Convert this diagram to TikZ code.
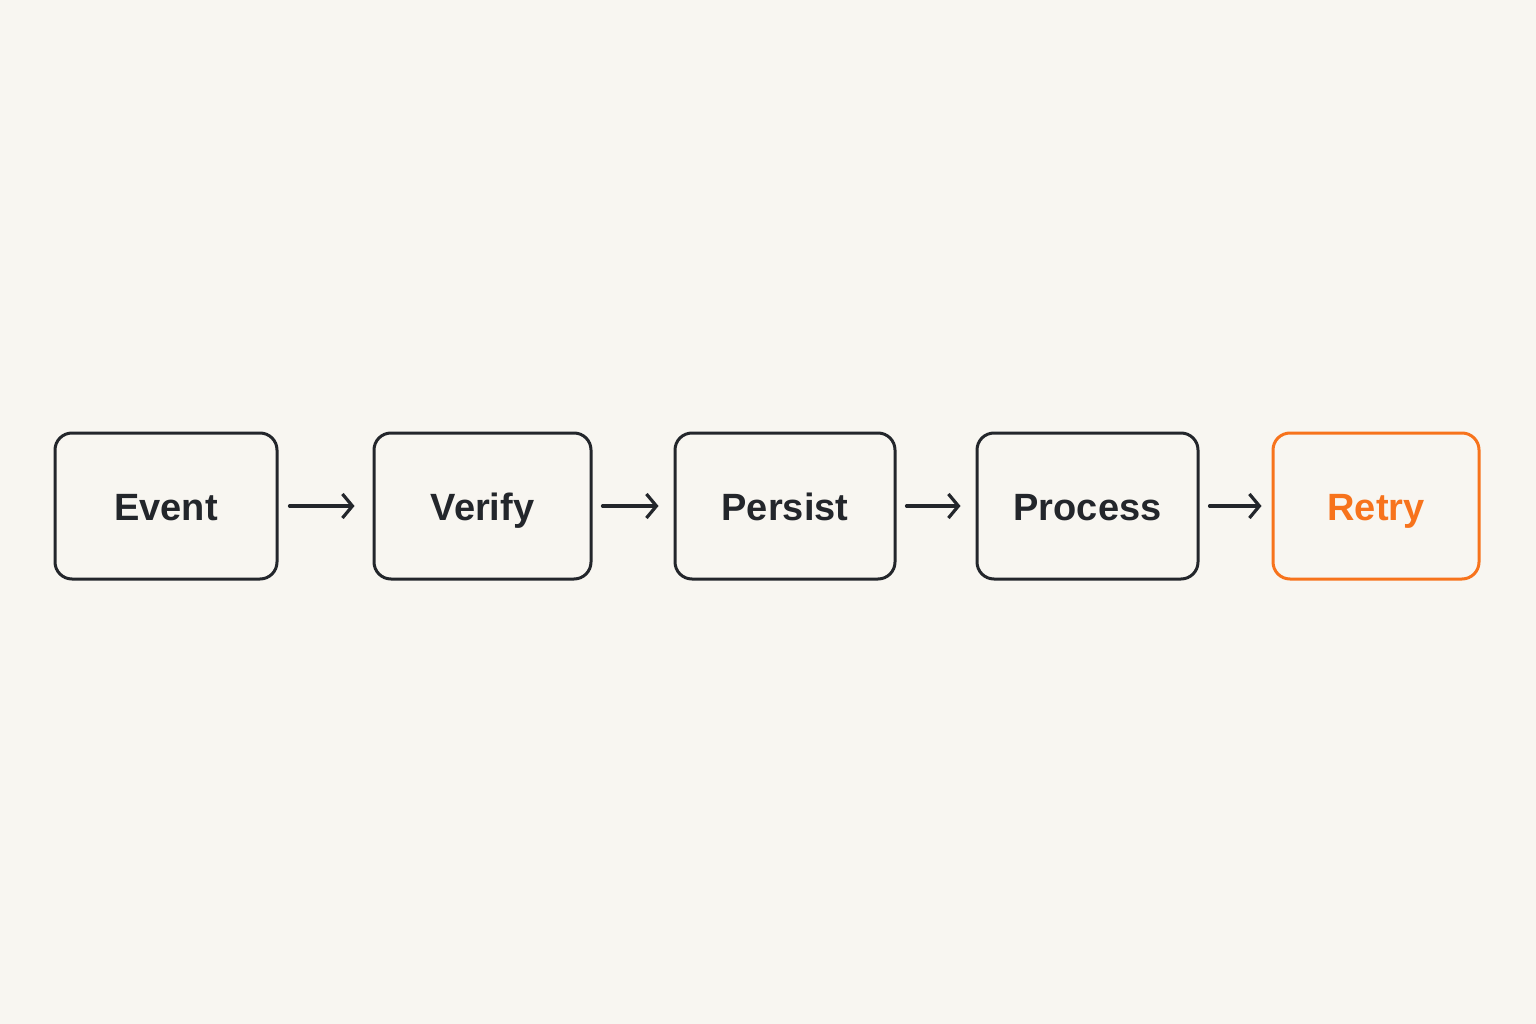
\documentclass[tikz,border=0pt]{standalone}
\usepackage{fontspec}
\setmainfont{Liberation Sans}
\usetikzlibrary{arrows.meta}
\definecolor{bg}{HTML}{F8F6F1}
\definecolor{ink}{HTML}{23262B}
\definecolor{accent}{HTML}{F7731C}
\tikzset{
  stage/.style={draw=ink, line width=3pt, rounded corners=17pt, minimum height=146pt,
    inner sep=0pt, text height=38pt, text depth=10pt,
    font=\fontsize{38}{40}\selectfont\bfseries, text=ink},
  conn/.style={draw=ink, line width=3.2pt, line cap=round,
    -{Straight Barb[length=10pt,width=24pt,line width=3.2pt]}, shorten <=11pt, shorten >=15pt}
}
\begin{document}
\begin{tikzpicture}[x=1pt,y=-1pt]
\useasboundingbox (0,0) rectangle (1536,1024);
\fill[bg] (0,0) rectangle (1536,1024);
\node[stage, minimum width=222pt] (event) at (166,506) {Event};
\node[stage, minimum width=217pt] (verify) at (482.5,506) {Verify};
\node[stage, minimum width=220pt] (persist) at (785,506) {Persist};
\node[stage, minimum width=221pt] (process) at (1087.5,506) {Process};
\node[stage, minimum width=206pt, draw=accent, text=accent] (retry) at (1376,506) {Retry};
\draw[conn, shorten >=18pt] (event) -- (verify);
\draw[conn, shorten <=10pt] (verify) -- (persist);
\draw[conn, shorten <=10pt] (persist) -- (process);
\draw[conn, shorten <=10pt, shorten >=10pt] (process) -- (retry);
\end{tikzpicture}
\end{document}
